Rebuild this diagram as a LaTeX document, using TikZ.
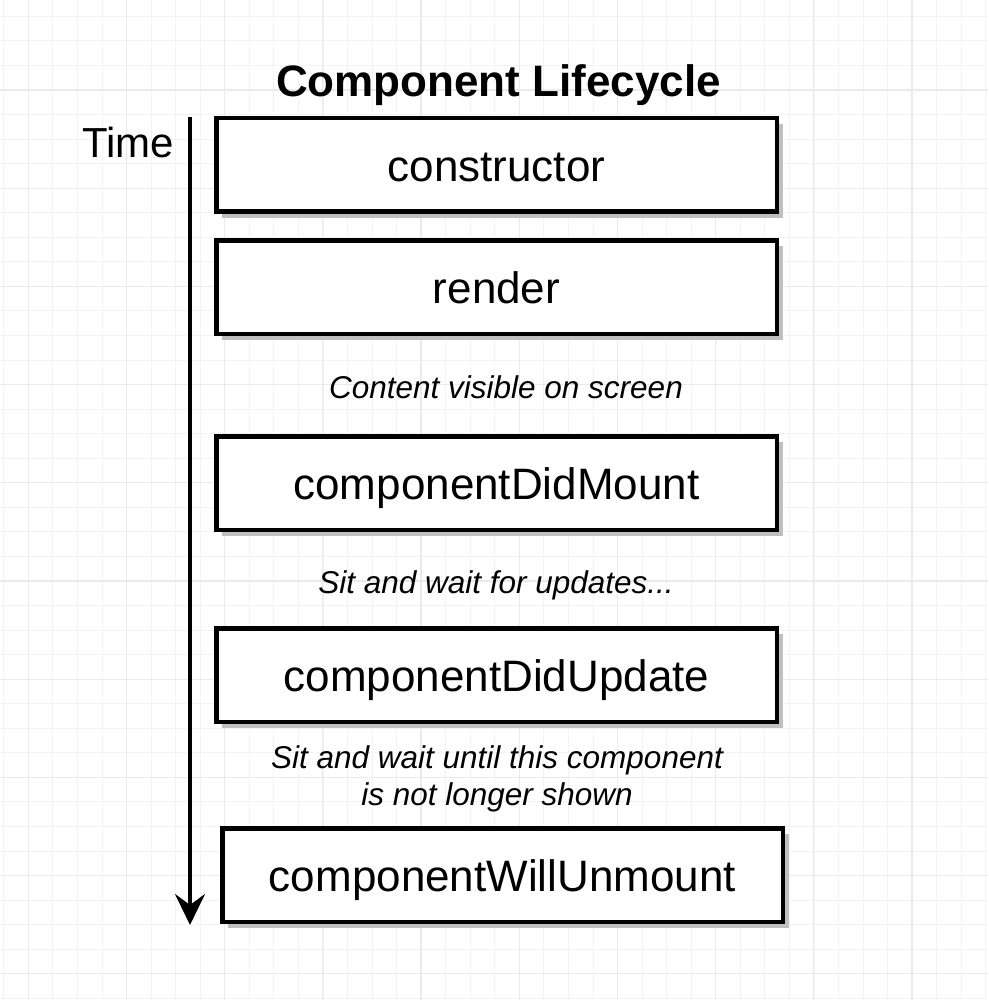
\documentclass[tikz,border=0pt]{standalone}
\usepackage{fontspec}
\setmainfont{Liberation Sans}
\usepackage{tikz}
\usetikzlibrary{arrows.meta,positioning,shadows}

\definecolor{gridminor}{HTML}{F3F3F3}
\definecolor{gridmajor}{HTML}{EAEAEA}

\begin{document}
\begin{tikzpicture}[x=1pt,y=-1pt,>={Stealth[length=31pt,width=30pt,inset=11pt]},
  stage node/.style={rectangle,draw,line width=4.5pt,fill=white,
    minimum width=560.5pt,minimum height=93.5pt,text height=33pt,text depth=0pt,
    font=\fontsize{44}{52}\selectfont,
    drop shadow={shadow xshift=6pt,shadow yshift=-6pt,fill=black!25,opacity=1}},
  note node/.style={font=\fontsize{31.5}{37.4}\selectfont\itshape,align=center}]

  \useasboundingbox (0,0) rectangle (988,1000);
  \fill[white] (0,0) rectangle (988,1000);

  % background grid
  \foreach \i in {0,...,40} {
    \draw[gridminor,line width=1pt] ({3.85+24.55*\i},0) -- ++(0,1000);
    \draw[gridminor,line width=1pt] (0,{16.35+24.55*\i}) -- ++(988,0);
  }
  \foreach \i in {0,...,9} {
    \draw[gridmajor,line width=1.3pt] ({28.2+98.2*\i},0) -- ++(0,1000);
    \draw[gridmajor,line width=1.3pt] (0,{90+98.2*\i}) -- ++(988,0);
  }

  \node[font=\fontsize{44}{52}\selectfont\bfseries,anchor=base] (title) at (498.5,97) {Component Lifecycle};
  \node[font=\fontsize{42}{50}\selectfont,anchor=base] (timelabel) at (128.3,157.3) {Time};

  \node[stage node] (constructor) at (496.5,165) {constructor};
  \node[stage node] (render) [below=24pt of constructor] {render};
  \node[stage node] (didmount) [below=98pt of render] {componentDidMount};
  \node[stage node] (didupdate) [below=94pt of didmount] {componentDidUpdate};
  \node[stage node] (willunmount) [below=102pt of didupdate,xshift=6pt] {componentWillUnmount};

  \node[note node,anchor=base] (visible) at (506,398) {Content visible on screen};
  \node[note node,anchor=base] (waiting) at (496,593) {Sit and wait for updates...};
  \node[note node] (unmountnote) at (497,779) {Sit and wait until this component\\is not longer shown};

  % time axis
  \coordinate (timestart) at (190,117);
  \coordinate (timeend) at (190,925);
  \draw[->,line width=4pt] (timestart) -- (timeend);

\end{tikzpicture}
\end{document}
